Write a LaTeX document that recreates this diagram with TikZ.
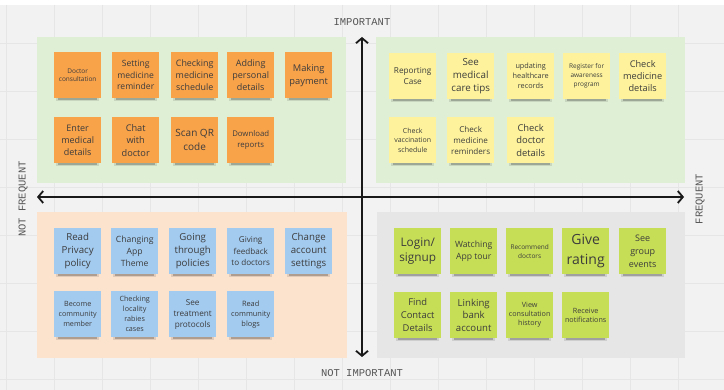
\documentclass[tikz,border=0pt]{standalone}
\usepackage{fontspec}
\setmainfont{Open Sans}
\setmonofont{Liberation Mono}
\usetikzlibrary{arrows.meta}
\definecolor{bgc}{HTML}{F2F2F2}
\definecolor{gridc}{HTML}{E6E6E6}
\definecolor{qgreen}{HTML}{DFEFD5}
\definecolor{qpeach}{HTML}{FBE3CD}
\definecolor{qgray}{HTML}{E6E6E6}
\definecolor{orangenote}{HTML}{F8A24A}
\definecolor{yellownote}{HTML}{FEF39C}
\definecolor{bluenote}{HTML}{A3CBF0}
\definecolor{limenote}{HTML}{C6DE55}
\definecolor{txt}{HTML}{3C3C3C}
\definecolor{axis}{HTML}{555555}
\newcommand\stick[7]{%
  \fill[black,opacity=.10] (#2+2,#3+40) rectangle (#2+45,#3+49.5);
  \fill[black,opacity=.22] (#2+4,#3+43) rectangle (#2+43,#3+48.5);
  \node[note,fill=#4,font=\fontsize{#5}{#6}\selectfont] (#1) at (#2,#3) {#7};}
\begin{document}
\begin{tikzpicture}[x=1pt,y=-1pt,
  note/.style={minimum width=47pt,minimum height=46pt,inner sep=0pt,align=center,text=txt,anchor=north west},
  axislabel/.style={font=\ttfamily\fontsize{10.5}{12}\selectfont,text=axis},
  axisarrow/.style={line width=1.8pt,black!90,-{Straight Barb[length=5pt,width=12pt]}}]
% background
\fill[white] (0,0) rectangle (724,390);
\fill[bgc] (0,5) rectangle (724,390);
\useasboundingbox (0,0) rectangle (724,390);
\foreach \i in {0,...,15} \draw[gridc,line width=0.6pt] (6+48*\i,5) -- (6+48*\i,390);
\foreach \j in {0,...,8} \draw[gridc,line width=0.6pt] (0,43+48*\j) -- (724,43+48*\j);
% quadrants
\fill[qgreen] (37,37) rectangle (346,183);
\fill[qgreen] (376,37) rectangle (685,183);
\fill[qpeach] (37,212) rectangle (347,358);
\fill[qgray] (377,212) rectangle (685,358);
% axes
\coordinate (vtop) at (362,37);
\coordinate (vbot) at (362,357);
\coordinate (hleft) at (37,197);
\coordinate (hright) at (684,197);
\coordinate (vmid) at (362,197);
\draw[axisarrow] (vmid) -- (vtop);
\draw[axisarrow] (vmid) -- (vbot);
\draw[axisarrow] (vmid) -- (hleft);
\draw[axisarrow] (vmid) -- (hright);
\node[axislabel] (limp) at (362,22) {IMPORTANT};
\node[axislabel] (lnimp) at (362,373) {NOT IMPORTANT};
\node[axislabel,rotate=90] (lnfreq) at (23,199) {NOT FREQUENT};
\node[axislabel,rotate=90] (lfreq) at (700,199) {FREQUENT};
% top-left: important, not frequent
\stick{a1}{54}{52}{orangenote}{6.5}{8.5}{Doctor\\consultation}
\stick{a2}{112}{52}{orangenote}{8.6}{11.5}{Setting\\medicine\\reminder}
\stick{a3}{171}{52}{orangenote}{8.9}{11.7}{Checking\\medicine\\schedule}
\stick{a4}{227}{52}{orangenote}{9}{11.7}{Adding\\personal\\details}
\stick{a5}{285}{52}{orangenote}{9.3}{13}{Making\\payment}
\stick{a6}{54}{117}{orangenote}{9}{12.2}{Enter\\medical\\details}
\stick{a7}{112}{117}{orangenote}{9.2}{12.5}{Chat\\with\\doctor}
\stick{a8}{171}{117}{orangenote}{10}{14}{Scan QR\\code}
\stick{a9}{227}{117}{orangenote}{7.8}{11}{Download\\reports}
% top-right: important, frequent
\stick{b1}{389}{53}{yellownote}{8.2}{11}{Reporting\\Case}
\stick{b2}{447}{53}{yellownote}{9.8}{13.2}{See\\medical\\care tips}
\stick{b3}{507}{53}{yellownote}{7.3}{10}{updating\\healthcare\\records}
\stick{b4}{563}{53}{yellownote}{6.5}{9}{Register for\\awareness\\program}
\stick{b5}{619}{53}{yellownote}{9.2}{12.2}{Check\\medicine\\details}
\stick{b6}{389}{117}{yellownote}{7}{9.8}{Check\\vaccination\\schedule}
\stick{b7}{447}{117}{yellownote}{8.1}{11}{Check\\medicine\\reminders}
\stick{b8}{507}{117}{yellownote}{9.4}{12.7}{Check\\doctor\\details}
% bottom-left: not important, not frequent
\stick{c1}{54}{228}{bluenote}{9.7}{13}{Read\\Privacy\\policy}
\stick{c2}{111}{228}{bluenote}{8.6}{11.7}{Changing\\App\\Theme}
\stick{c3}{169}{228}{bluenote}{9.7}{13}{Going\\through\\policies}
\stick{c4}{227}{228}{bluenote}{8.1}{11.3}{Giving\\feedback\\to doctors}
\stick{c5}{285}{228}{bluenote}{9.7}{13}{Change\\account\\settings}
\stick{c6}{54}{291}{bluenote}{7.2}{9.8}{Become\\community\\member}
\stick{c7}{111}{291}{bluenote}{7.2}{10}{Checking\\locality\\rabies\\cases}
\stick{c8}{169}{291}{bluenote}{8.2}{11}{See\\treatment\\protocols}
\stick{c9}{227}{291}{bluenote}{7.4}{10}{Read\\community\\blogs}
% bottom-right: not important, frequent
\stick{d1}{394}{228}{limenote}{11.8}{15.7}{Login/\\signup}
\stick{d2}{450}{228}{limenote}{8.6}{12.3}{Watching\\App tour}
\stick{d3}{506}{228}{limenote}{6.5}{9}{Recommend\\doctors}
\stick{d4}{562}{228}{limenote}{14}{20}{Give\\rating}
\stick{d5}{619}{228}{limenote}{9}{12.7}{See\\group\\events}
\stick{d6}{394}{292}{limenote}{9.4}{13}{Find\\Contact\\Details}
\stick{d7}{450}{292}{limenote}{9.6}{12.7}{Linking\\bank\\account}
\stick{d8}{506}{292}{limenote}{7.2}{9}{View\\consultation\\history}
\stick{d9}{562}{292}{limenote}{7.2}{9.3}{Receive\\notifications}
\end{tikzpicture}
\end{document}
